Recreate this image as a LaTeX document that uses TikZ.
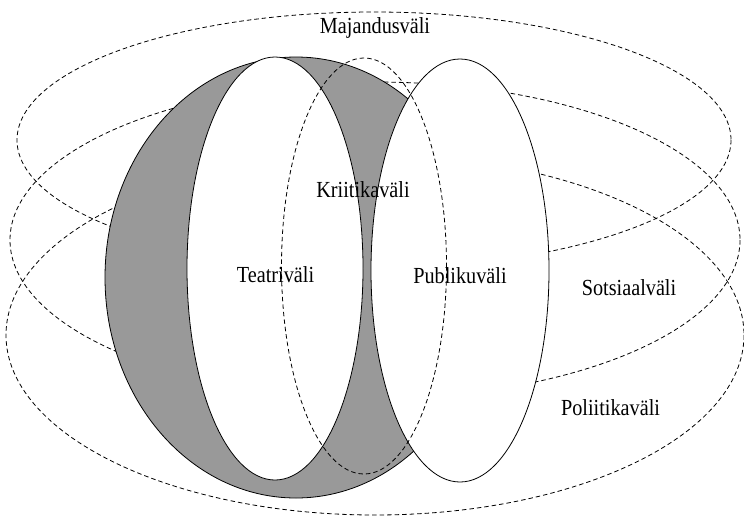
\documentclass[tikz,border=0pt]{standalone}
\usepackage{fontspec}
\setmainfont{Liberation Serif}
\newfontfamily\labelfont[FakeStretch=0.88]{Liberation Serif}
\definecolor{fieldgray}{RGB}{153,153,153}
\begin{document}
\begin{tikzpicture}[x=1pt,y=-1pt,
  field/.style={draw=black, line width=0.8pt, dash pattern=on 4.5pt off 3pt},
  solidfield/.style={draw=black, line width=0.8pt},
  lab/.style={font=\labelfont\fontsize{23}{23}\selectfont, anchor=base, inner sep=0pt}]
\useasboundingbox (0,0) rectangle (744,517);
% background fields
\draw[field] (374,140) ellipse [x radius=357, y radius=128];
\draw[field] (375,240) ellipse [x radius=365, y radius=158];
\draw[field] (375,335) ellipse [x radius=369, y radius=180];
% grey field
\draw[solidfield, fill=fieldgray] (296,277.5) ellipse [x radius=191, y radius=220.5];
% theatre and audience
\draw[solidfield, fill=white] (275,268.5) ellipse [x radius=88, y radius=211.5];
\draw[solidfield, fill=white] (460,270.5) ellipse [x radius=89, y radius=211.5];
% critics
\draw[field] (364,266) ellipse [x radius=82.5, y radius=208];
% labels
\node[lab] (maj) at (375,33) {Majandusväli};
\node[lab] (krii) at (363,197) {Kriitikaväli};
\node[lab] (teat) at (275.5,282) {Teatriväli};
\node[lab] (publ) at (460,283) {Publikuväli};
\node[lab] (sots) at (629,295) {Sotsiaalväli};
\node[lab] (poli) at (610.5,415) {Poliitikaväli};
\end{tikzpicture}
\end{document}
